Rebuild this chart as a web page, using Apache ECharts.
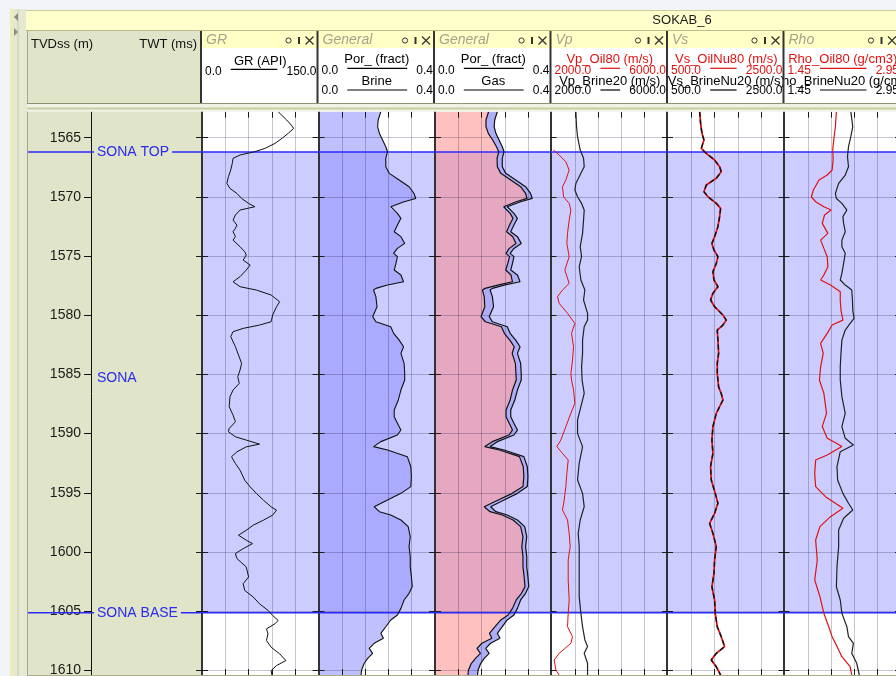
<!DOCTYPE html>
<html>
<head>
<meta charset="utf-8">
<script src="https://cdn.jsdelivr.net/npm/echarts@6/dist/echarts.min.js"></script>
<style>
  html, body { margin: 0; padding: 0; background: #ffffff; }
  #chart { width: 896px; height: 676px; }
</style>
</head>
<body>
<div id="chart"></div>
<script>
// ---------- well / depth reference ----------
const wellName = 'SOKAB_6';
const depthRange = [1562.8, 1610.4];
const depthTicks = [1565, 1570, 1575, 1580, 1585, 1590, 1595, 1600, 1605, 1610];

// formation markers: name, depth (m), drawn as a line across the tracks
const horizonNames = ['SONA TOP', 'SONA', 'SONA BASE'];
const horizonDepths = [1566.2, 1585.3, 1605.15];
const horizonHasLine = [true, false, true];
const zoneTop = 1566.2;
const zoneBase = 1605.15;

// ---------- track scales and grid values ----------
const grScale = [0, 150];        const grGrid = [30, 60, 90, 120];
const porScale = [0, 0.4];       const porGrid = [0.08, 0.16, 0.24, 0.32];
const vpScale = [2000, 6000];    const vpGrid = [2800, 3600, 4400, 5200];
const vsScale = [500, 2500];     const vsGrid = [900, 1300, 1700, 2100];
const rhoScale = [1.45, 2.95];   const rhoGrid = [1.75, 2.05, 2.35, 2.65];

// ---------- logs: [depth (m), value] ----------
const grLog = [[1562.8,98],[1563.5,109],[1563.93,115],[1564.21,118],[1564.63,111],[1565.0,104],[1565.48,94],[1565.9,81],[1566.18,68],[1566.46,49],[1566.74,40],[1567.17,39],[1567.73,37],[1568.29,34],[1568.86,32],[1569.28,36],[1569.71,45],[1570.13,51],[1570.55,60],[1570.83,68],[1571.11,49],[1571.53,43],[1571.96,40],[1572.38,45],[1572.66,43],[1572.94,40],[1573.36,43],[1573.65,40],[1574.21,49],[1574.63,55],[1574.91,57],[1575.34,53],[1575.76,62],[1576.18,57],[1576.74,49],[1577.17,40],[1577.59,49],[1577.87,70],[1578.29,89],[1578.86,100],[1579.28,96],[1579.98,91],[1580.55,89],[1580.83,74],[1581.11,53],[1581.39,40],[1581.81,37],[1582.66,43],[1583.36,47],[1584.07,51],[1584.63,49],[1585.2,46],[1585.76,48],[1586.32,40],[1586.89,36],[1587.73,35],[1588.44,40],[1589.0,43],[1589.57,35],[1589.85,34],[1590.27,43],[1590.55,57],[1590.89,74],[1591.12,57],[1591.54,45],[1591.96,38],[1592.53,43],[1593.09,49],[1593.94,55],[1594.5,62],[1595.06,70],[1595.62,79],[1596.19,89],[1596.47,96],[1596.89,91],[1597.32,79],[1597.74,66],[1598.17,57],[1598.59,47],[1599.01,57],[1599.3,65],[1599.72,53],[1600.14,43],[1600.56,45],[1601.27,57],[1602.12,60],[1602.69,53],[1603.25,55],[1603.81,66],[1604.38,74],[1604.94,85],[1605.37,91],[1605.79,98],[1606.07,94],[1606.5,83],[1606.92,85],[1607.48,83],[1608.05,89],[1608.61,100],[1609.18,108],[1609.6,96],[1610.03,89],[1610.4,90]];

const porLog = [[1562.8,0.214],[1563.5,0.205],[1564.07,0.203],[1564.63,0.209],[1565.19,0.220],[1565.76,0.231],[1566.18,0.237],[1566.74,0.231],[1567.45,0.231],[1568.01,0.243],[1568.57,0.277],[1569.14,0.311],[1569.71,0.328],[1570.13,0.334],[1570.41,0.294],[1570.83,0.248],[1570.97,0.243],[1571.39,0.271],[1571.81,0.283],[1572.38,0.271],[1572.94,0.260],[1573.36,0.283],[1573.93,0.296],[1574.35,0.271],[1574.77,0.258],[1575.05,0.271],[1575.62,0.266],[1576.18,0.260],[1576.6,0.283],[1577.17,0.292],[1577.45,0.237],[1577.73,0.197],[1577.87,0.189],[1578.43,0.197],[1579.28,0.201],[1580.12,0.186],[1580.55,0.197],[1580.97,0.248],[1581.53,0.258],[1582.1,0.277],[1582.66,0.292],[1583.22,0.283],[1584.07,0.294],[1584.92,0.296],[1585.47,0.296],[1586.32,0.283],[1587.16,0.274],[1588.0,0.260],[1588.57,0.260],[1589.13,0.271],[1589.7,0.283],[1590.12,0.271],[1590.68,0.214],[1591.1,0.189],[1591.39,0.237],[1591.95,0.305],[1592.8,0.317],[1593.64,0.319],[1594.48,0.317],[1595.05,0.283],[1595.61,0.237],[1596.18,0.191],[1596.6,0.209],[1596.88,0.248],[1597.3,0.283],[1597.86,0.308],[1598.71,0.315],[1599.55,0.311],[1600.4,0.315],[1601.24,0.315],[1602.09,0.319],[1602.93,0.322],[1603.5,0.311],[1604.06,0.294],[1604.77,0.283],[1605.33,0.271],[1605.75,0.248],[1606.32,0.231],[1606.88,0.214],[1607.3,0.223],[1607.72,0.191],[1608.15,0.174],[1608.57,0.186],[1608.99,0.169],[1609.41,0.157],[1609.98,0.148],[1610.4,0.146]];

const gasLog = [[1562.8,0.184],[1563.5,0.175],[1564.07,0.175],[1564.63,0.183],[1565.19,0.198],[1565.76,0.211],[1566.18,0.219],[1566.74,0.213],[1567.45,0.214],[1568.01,0.226],[1568.57,0.260],[1569.14,0.294],[1569.71,0.311],[1570.13,0.316],[1570.41,0.279],[1570.83,0.236],[1570.97,0.232],[1571.39,0.258],[1571.81,0.268],[1572.38,0.256],[1572.94,0.246],[1573.36,0.267],[1573.93,0.278],[1574.35,0.255],[1574.77,0.244],[1575.05,0.256],[1575.62,0.250],[1576.18,0.243],[1576.6,0.261],[1577.17,0.266],[1577.45,0.215],[1577.73,0.172],[1577.87,0.163],[1578.43,0.169],[1579.28,0.171],[1580.12,0.158],[1580.55,0.173],[1580.97,0.228],[1581.53,0.238],[1582.1,0.257],[1582.66,0.272],[1583.22,0.265],[1584.07,0.276],[1584.92,0.278],[1585.47,0.279],[1586.32,0.266],[1587.16,0.258],[1588.0,0.244],[1588.57,0.244],[1589.13,0.255],[1589.7,0.266],[1590.12,0.254],[1590.68,0.197],[1591.1,0.171],[1591.39,0.221],[1591.95,0.290],[1592.8,0.303],[1593.64,0.305],[1594.48,0.302],[1595.05,0.265],[1595.61,0.217],[1596.18,0.169],[1596.6,0.189],[1596.88,0.231],[1597.3,0.268],[1597.86,0.294],[1598.71,0.302],[1599.55,0.298],[1600.4,0.302],[1601.24,0.302],[1602.09,0.306],[1602.93,0.309],[1603.5,0.297],[1604.06,0.279],[1604.77,0.266],[1605.33,0.251],[1605.75,0.226],[1606.32,0.206],[1606.88,0.187],[1607.3,0.195],[1607.72,0.161],[1608.15,0.144],[1608.57,0.156],[1608.99,0.139],[1609.41,0.125],[1609.98,0.115],[1610.4,0.113]];

const vpBrineLog = [[1562.8,2837],[1564.07,2860],[1564.91,2894],[1566.04,2986],[1566.74,3100],[1567.45,3123],[1568.01,3009],[1568.86,2837],[1569.42,2802],[1569.99,2894],[1570.55,3032],[1571.11,3123],[1571.96,3100],[1573.08,3066],[1574.21,2986],[1575.05,3032],[1575.9,2951],[1577.02,3009],[1577.87,3146],[1578.71,3100],[1579.84,3238],[1580.41,3238],[1580.97,3123],[1582.1,3066],[1583.22,3066],[1584.36,3032],[1585.47,3050],[1586.6,3123],[1587.72,3009],[1588.85,2894],[1589.98,2894],[1591.1,3066],[1592.51,2951],[1593.92,2894],[1595.05,3066],[1596.17,3123],[1597.3,2986],[1598.43,2917],[1599.55,2951],[1600.68,2951],[1602.37,2951],[1603.78,2951],[1605.19,3009],[1606.32,3066],[1607.44,3146],[1608.0,3238],[1608.57,3123],[1609.41,3238],[1610.4,3238]];

const vpOilLog = [[1566.04,2069],[1566.46,2264],[1567.03,2493],[1567.73,2607],[1568.57,2493],[1569.14,2378],[1569.99,2413],[1570.55,2607],[1571.11,2665],[1571.96,2607],[1573.08,2550],[1573.93,2527],[1575.05,2607],[1576.18,2458],[1577.31,2607],[1577.87,2378],[1578.43,2206],[1579.0,2264],[1579.84,2550],[1580.69,2802],[1581.53,2688],[1582.66,2757],[1583.79,2722],[1584.92,2665],[1585.47,2688],[1586.32,2757],[1587.44,2802],[1588.29,2665],[1589.41,2493],[1590.54,2321],[1591.1,2183],[1591.67,2378],[1592.23,2573],[1593.36,2527],[1594.48,2493],[1595.61,2436],[1596.46,2378],[1597.3,2550],[1598.43,2607],[1599.55,2642],[1600.68,2573],[1602.37,2573],[1604.06,2607],[1605.19,2573],[1606.32,2550],[1607.16,2722],[1607.72,2665],[1608.57,2264],[1609.13,2092],[1609.98,2149],[1610.4,2264]];

const vsOilLog = [[1562.8,1043],[1563.79,1060],[1564.63,1083],[1565.19,1117],[1565.9,1071],[1566.32,1157],[1566.88,1300],[1567.45,1386],[1567.87,1414],[1568.43,1329],[1569.0,1157],[1569.56,1117],[1569.99,1186],[1570.55,1329],[1570.97,1403],[1571.67,1386],[1572.52,1357],[1573.36,1300],[1573.93,1254],[1574.49,1289],[1575.05,1357],[1575.62,1329],[1576.32,1271],[1577.02,1289],[1577.59,1357],[1578.15,1271],[1578.71,1231],[1579.28,1300],[1579.98,1443],[1580.41,1500],[1580.83,1443],[1581.25,1346],[1582.1,1357],[1583.22,1369],[1584.07,1346],[1584.92,1346],[1585.47,1357],[1586.05,1369],[1586.62,1414],[1587.16,1443],[1588.29,1329],[1589.41,1271],[1590.54,1254],[1591.67,1271],[1592.79,1231],[1593.92,1243],[1595.05,1311],[1595.89,1357],[1596.74,1300],[1597.58,1214],[1598.43,1271],[1599.55,1329],[1600.68,1300],[1601.81,1289],[1602.94,1254],[1604.06,1300],[1605.19,1311],[1606.32,1346],[1607.16,1414],[1608.0,1471],[1608.57,1329],[1609.13,1243],[1609.7,1329],[1610.4,1403]];

const vsBrineLog = [[1562.8,1043],[1563.79,1060],[1564.63,1083],[1565.19,1117],[1565.9,1071],[1566.32,1157],[1566.88,1300],[1567.45,1386],[1567.87,1414],[1568.43,1329],[1569.0,1157],[1569.56,1117],[1569.99,1186],[1570.55,1329],[1570.97,1403],[1571.67,1386],[1572.52,1357],[1573.36,1300],[1573.93,1254],[1574.49,1289],[1575.05,1357],[1575.62,1329],[1576.32,1271],[1577.02,1289],[1577.59,1357],[1578.15,1271],[1578.71,1231],[1579.28,1300],[1579.98,1443],[1580.41,1500],[1580.83,1443],[1581.25,1346],[1582.1,1357],[1583.22,1369],[1584.07,1346],[1584.92,1346],[1585.47,1357],[1586.05,1369],[1586.62,1414],[1587.16,1443],[1588.29,1329],[1589.41,1271],[1590.54,1254],[1591.67,1271],[1592.79,1231],[1593.92,1243],[1595.05,1311],[1595.89,1357],[1596.74,1300],[1597.58,1214],[1598.43,1271],[1599.55,1329],[1600.68,1300],[1601.81,1289],[1602.94,1254],[1604.06,1300],[1605.19,1311],[1606.32,1346],[1607.16,1414],[1608.0,1471],[1608.57,1329],[1609.13,1243],[1609.7,1329],[1610.4,1403]];

const rhoBrineLog = [[1562.8,2.304],[1564.07,2.329],[1564.91,2.304],[1565.76,2.274],[1566.6,2.261],[1567.45,2.274],[1568.15,2.232],[1568.86,2.147],[1569.71,2.105],[1570.13,2.118],[1570.55,2.189],[1571.11,2.253],[1571.67,2.202],[1572.24,2.211],[1572.94,2.232],[1573.65,2.189],[1574.21,2.189],[1574.77,2.232],[1575.62,2.211],[1576.46,2.189],[1577.02,2.168],[1577.45,2.232],[1577.87,2.316],[1578.71,2.325],[1579.56,2.329],[1580.26,2.346],[1580.69,2.295],[1581.25,2.232],[1582.1,2.189],[1583.22,2.177],[1584.36,2.168],[1585.47,2.168],[1586.88,2.189],[1588.29,2.232],[1589.41,2.189],[1590.4,2.232],[1590.96,2.337],[1591.53,2.168],[1592.79,2.126],[1593.92,2.134],[1595.05,2.202],[1595.89,2.274],[1596.46,2.329],[1597.16,2.211],[1598.15,2.147],[1599.55,2.147],[1601.24,2.126],[1602.94,2.118],[1604.06,2.168],[1605.19,2.189],[1606.32,2.253],[1607.16,2.274],[1607.72,2.337],[1608.57,2.316],[1609.41,2.380],[1610.4,2.413]];

const rhoOilLog = [[1562.8,2.118],[1564.07,2.105],[1565.19,2.084],[1566.04,2.071],[1566.88,2.076],[1567.73,2.063],[1568.15,2.0],[1568.57,1.894],[1569.42,1.822],[1569.99,1.796],[1570.41,1.851],[1570.83,1.957],[1571.11,2.05],[1571.53,1.965],[1572.24,1.936],[1573.08,2.008],[1573.65,1.915],[1574.35,1.957],[1575.05,2.0],[1575.9,2.008],[1576.6,1.957],[1577.02,1.915],[1577.45,2.042],[1578.01,2.168],[1578.71,2.168],[1579.56,2.177],[1580.41,2.202],[1580.83,2.063],[1581.53,2.0],[1582.38,1.915],[1583.22,1.949],[1584.36,1.915],[1585.47,1.900],[1586.6,1.957],[1588.29,1.991],[1589.41,1.936],[1590.4,2.0],[1590.82,2.118],[1591.1,2.189],[1591.81,2.0],[1592.23,1.851],[1593.36,1.839],[1594.48,1.851],[1595.33,1.978],[1596.31,2.202],[1597.02,2.042],[1597.86,1.906],[1598.99,1.851],[1600.68,1.872],[1602.37,1.839],[1603.78,1.906],[1605.19,1.957],[1606.32,2.020],[1607.16,2.063],[1608.0,2.126],[1608.85,2.189],[1609.7,2.295],[1610.4,2.316]];

// ---------- layout ----------
const FONT = '"Liberation Sans", Arial, Helvetica, sans-serif';
const TOP = 111.7, HEIGHT = 563.3, TRACK_W = 116.5;
const trackLeft = [202, 318.5, 435, 551.5, 668, 784.5];
const RED = '#E01010';

const tracks = [
  { title: 'GR', scale: grScale, grid: grGrid,
    rows: [{ name: 'GR (API)', lo: '0.0', hi: '150.0', color: '#000' }] },
  { title: 'General', scale: porScale, grid: porGrid,
    rows: [{ name: 'Por_ (fract)', lo: '0.0', hi: '0.4', color: '#000' },
           { name: 'Brine', lo: '0.0', hi: '0.4', color: '#000' }] },
  { title: 'General', scale: porScale, grid: porGrid,
    rows: [{ name: 'Por_ (fract)', lo: '0.0', hi: '0.4', color: '#000' },
           { name: 'Gas', lo: '0.0', hi: '0.4', color: '#000' }] },
  { title: 'Vp', scale: vpScale, grid: vpGrid,
    rows: [{ name: 'Vp_Oil80 (m/s)', lo: '2000.0', hi: '6000.0', color: RED },
           { name: 'Vp_Brine20 (m/s)', lo: '2000.0', hi: '6000.0', color: '#000' }] },
  { title: 'Vs', scale: vsScale, grid: vsGrid,
    rows: [{ name: 'Vs_OilNu80 (m/s)', lo: '500.0', hi: '2500.0', color: RED },
           { name: 'Vs_BrineNu20 (m/s)', lo: '500.0', hi: '2500.0', color: '#000' }] },
  { title: 'Rho', scale: rhoScale, grid: rhoGrid,
    rows: [{ name: 'Rho_Oil80 (g/cm3)', lo: '1.45', hi: '2.95', color: RED },
           { name: 'Rho_BrineNu20 (g/cm3)', lo: '1.45', hi: '2.95', color: '#000' }] }
];

const GRID_LINE = 'rgba(0,0,50,0.22)';
const TICK = '#1c1c1c';

// ---------- grids and axes ----------
function gridBox(left, width) {
  return { left: left, top: TOP, width: width, height: HEIGHT, containLabel: false, outerBoundsMode: 'none' };
}
const grids = [gridBox(91, 109)];
const xAxes = [{ gridIndex: 0, type: 'value', min: 0, max: 1, show: false }];
const yAxes = [{
  gridIndex: 0, type: 'value', inverse: true, min: depthRange[0], max: depthRange[1], z: 3,
  axisLine: { show: true, lineStyle: { color: '#111', width: 1 } },
  axisTick: { show: true, length: 7, customValues: depthTicks, lineStyle: { color: '#111' } },
  axisLabel: { show: true, customValues: depthTicks, color: '#1a1a1a', fontSize: 14, fontFamily: FONT, margin: 10,
               formatter: v => String(v) },
  splitLine: { show: false }
}];

tracks.forEach((t, i) => {
  const g = i + 1;
  grids.push(gridBox(trackLeft[i], TRACK_W));
  ['top', 'bottom'].forEach(pos => {
    xAxes.push({
      gridIndex: g, type: 'value', position: pos, min: t.scale[0], max: t.scale[1], z: 3,
      axisLine: { show: false }, axisLabel: { show: false },
      axisTick: { show: true, inside: true, length: 6, customValues: t.grid, lineStyle: { color: TICK } },
      splitLine: { show: pos === 'top', lineStyle: { color: GRID_LINE, width: 1 } }
    });
  });
  ['left', 'right'].forEach(pos => {
    yAxes.push({
      gridIndex: g, type: 'value', position: pos, inverse: true, min: depthRange[0], max: depthRange[1],
      offset: pos === 'left' ? 1 : 0, z: 3,
      axisLine: { show: pos === 'left', lineStyle: { color: '#333', width: 2 } },
      axisLabel: { show: false },
      axisTick: { show: true, inside: true, length: 6, customValues: depthTicks, lineStyle: { color: TICK } },
      splitLine: { show: pos === 'left', lineStyle: { color: GRID_LINE, width: 1 } }
    });
  });
});

const xIdx = i => 1 + i * 2;      // top x axis of track i
const yIdx = i => 1 + i * 2;      // left y axis of track i

// ---------- series ----------
const series = [];

// reservoir zone shading in every track
tracks.forEach((t, i) => {
  series.push({
    type: 'custom', xAxisIndex: xIdx(i), yAxisIndex: yIdx(i), z: 1, silent: true,
    data: [[t.scale[0], zoneTop]],
    renderItem: (params, api) => {
      const a = api.coord([t.scale[0], zoneTop]);
      const b = api.coord([t.scale[1], zoneBase]);
      return { type: 'rect', shape: { x: a[0], y: a[1], width: b[0] - a[0], height: b[1] - a[1] },
               style: { fill: '#CCCCFF' } };
    }
  });
});

// polygon between the track's left edge and a curve
function edgeFill(i, log, xmin, fill) {
  return {
    type: 'custom', xAxisIndex: xIdx(i), yAxisIndex: yIdx(i), z: 2, silent: true,
    data: [[xmin, log[0][0]]],
    renderItem: (params, api) => {
      const pts = [api.coord([xmin, log[0][0]])];
      log.forEach(p => pts.push(api.coord([p[1], p[0]])));
      pts.push(api.coord([xmin, log[log.length - 1][0]]));
      return { type: 'polygon', shape: { points: pts }, style: { fill: fill } };
    }
  };
}
// polygon between two curves
function bandFill(i, logA, logB, fill) {
  return {
    type: 'custom', xAxisIndex: xIdx(i), yAxisIndex: yIdx(i), z: 2, silent: true,
    data: [[logA[0][1], logA[0][0]]],
    renderItem: (params, api) => {
      const pts = logA.map(p => api.coord([p[1], p[0]]));
      for (let k = logB.length - 1; k >= 0; k--) pts.push(api.coord([logB[k][1], logB[k][0]]));
      return { type: 'polygon', shape: { points: pts }, style: { fill: fill } };
    }
  };
}
function curve(i, log, color, width, dashed) {
  return {
    type: 'line', xAxisIndex: xIdx(i), yAxisIndex: yIdx(i), z: 5, silent: true,
    symbol: 'none', showSymbol: false, animation: false,
    data: log.map(p => [p[1], p[0]]),
    lineStyle: { color: color, width: width, type: dashed ? [5, 3] : 'solid' }
  };
}

series.push(edgeFill(1, porLog, porScale[0], 'rgba(144,144,255,0.57)'));
series.push(edgeFill(2, gasLog, porScale[0], 'rgba(255,129,129,0.5)'));
series.push(bandFill(2, gasLog, porLog, '#AEAEF8'));

series.push(curve(0, grLog, '#111', 1));
series.push(curve(1, porLog, '#111', 1.1));
series.push(curve(2, gasLog, '#111', 1.2));
series.push(curve(2, porLog, '#111', 1.2));
series.push(curve(3, vpBrineLog, '#222', 1.2));
series.push(curve(3, vpOilLog, RED, 1));
series.push(curve(4, vsOilLog, RED, 1.7));
series.push(curve(4, vsBrineLog, '#111', 1.4, true));
series.push(curve(5, rhoBrineLog, '#222', 1.2));
series.push(curve(5, rhoOilLog, RED, 1.2));

// formation markers in the depth track, lines running across all tracks
series.push({
  type: 'custom', xAxisIndex: 0, yAxisIndex: 0, z: 4, silent: true,
  data: horizonDepths.map(d => [0, d]),
  renderItem: (params, api) => {
    const k = params.dataIndex;
    const y = api.coord([0, api.value(1)])[1];
    const children = [];
    if (horizonHasLine[k]) {
      children.push({ type: 'line', shape: { x1: 28, y1: y, x2: 896, y2: y },
                      style: { stroke: '#2A2AFF', lineWidth: 1.5 } });
    }
    children.push({ type: 'text', x: 94, y: y,
      style: { text: horizonNames[k], fill: '#2B2BEE', font: '14px ' + FONT,
               align: 'left', verticalAlign: 'middle', textAlign: 'left', textVerticalAlign: 'middle',
               backgroundColor: '#E0E4C8', padding: [1, 3, 1, 3] } });
    return { type: 'group', children: children };
  }
});

// ---------- header and frame ----------
const graphics = [];
function rect(x, y, w, h, fill, z) {
  graphics.push({ type: 'rect', z: z, silent: true, shape: { x: x, y: y, width: w, height: h }, style: { fill: fill } });
}
function hline(x1, x2, y, stroke, w, z) {
  graphics.push({ type: 'line', z: z, silent: true, shape: { x1: x1, y1: y, x2: x2, y2: y }, style: { stroke: stroke, lineWidth: w } });
}
function text(str, x, y, opts, z) {
  graphics.push({ type: 'text', z: z, silent: true, x: x, y: y,
    style: Object.assign({ text: str, font: '12px ' + FONT, fill: '#111',
      align: 'left', verticalAlign: 'middle', textAlign: 'left', textVerticalAlign: 'middle' }, opts) });
}
function textWidth(s) {
  let w = 0;
  for (const c of s) w += (c === '.' ? 3.4 : 6.7);
  return w;
}

// outer frame
rect(0, 0, 896, 676, '#F2F4F8', 0);
rect(10, 9, 3, 667, '#EEEEB0', 0);
rect(13, 9, 14, 667, '#E6E9D2', 0);
rect(17, 9, 2, 667, '#D6D9BE', 0);
graphics.push({ type: 'polygon', z: 1, silent: true, shape: { points: [[18, 13], [18, 21], [14, 17]] }, style: { fill: '#8A8A8A' } });
graphics.push({ type: 'polygon', z: 1, silent: true, shape: { points: [[14, 28], [14, 36], [18, 32]] }, style: { fill: '#8A8A8A' } });

// well title bar
rect(26, 10, 870, 21, '#FFFFCC', 1);
hline(26, 896, 10.5, '#C8CC98', 1, 2);
hline(26, 896, 30.5, '#B8BC88', 1, 2);
text(wellName, 682, 20.5, { font: '13px ' + FONT, align: 'center', textAlign: 'center', fill: '#1a1a1a' }, 3);

// white data area and beige depth track
rect(27, 31, 869, 645, '#FFFFFF', 0);
rect(27, 31, 174, 645, '#E0E4C8', 0);
graphics.push({ type: 'line', z: 1, silent: true, shape: { x1: 27.5, y1: 31, x2: 27.5, y2: 676 }, style: { stroke: '#A4A888', lineWidth: 1 } });
text('TVDss (m)', 31, 44, { font: '13px ' + FONT }, 3);
text('TWT (ms)', 197, 44, { font: '13px ' + FONT, align: 'right', textAlign: 'right' }, 3);

// track headers, drawn right to left so that long names are trimmed by the neighbouring panel
for (let i = tracks.length - 1; i >= 0; i--) {
  const t = tracks[i];
  const x0 = trackLeft[i], x1 = x0 + TRACK_W, cx = x0 + TRACK_W / 2;
  const zb = 20 + 2 * (tracks.length - 1 - i);
  rect(x0, 31, TRACK_W, 17, '#FFFFC6', zb);
  rect(x0, 48, TRACK_W, 55, '#FFFFFF', zb);
  text(t.title, x0 + 4, 40.5, { font: 'italic 14px ' + FONT, fill: '#A3A38C' }, zb + 1);
  // panel buttons
  graphics.push({ type: 'circle', z: zb + 1, silent: true, shape: { cx: x1 - 30, cy: 40.5, r: 2.6 }, style: { fill: 'none', stroke: '#333', lineWidth: 1 } });
  rect(x1 - 20.5, 37, 2, 7, '#333', zb + 1);
  graphics.push({ type: 'line', z: zb + 1, silent: true, shape: { x1: x1 - 13, y1: 36.5, x2: x1 - 5, y2: 44.5 }, style: { stroke: '#333', lineWidth: 1.2 } });
  graphics.push({ type: 'line', z: zb + 1, silent: true, shape: { x1: x1 - 13, y1: 44.5, x2: x1 - 5, y2: 36.5 }, style: { stroke: '#333', lineWidth: 1.2 } });
  // curve scales
  const layout = t.rows.length === 1
    ? [{ label: 61.5, line: 69.3, num: 71.7 }]
    : [{ label: 59.5, line: 68.3, num: 70.5 }, { label: 81, line: 90, num: 91 }];
  t.rows.forEach((r, k) => {
    const L = layout[k];
    text(r.name, cx, L.label, { font: '13px ' + FONT, fill: r.color, align: 'center', textAlign: 'center' }, zb + 1);
    text(r.lo, x0 + 3, L.num, { font: '12px ' + FONT, fill: r.color }, zb + 1);
    text(r.hi, x1 - 2, L.num, { font: '12px ' + FONT, fill: r.color, align: 'right', textAlign: 'right' }, zb + 1);
    hline(x0 + 3 + textWidth(r.lo) + 9, x1 - 2 - textWidth(r.hi) - 9, L.line, r.color, 1.2, zb + 1);
  });
}
// panel separators in the header
trackLeft.map(x => x - 1).forEach(x => {
  rect(x - 1, 31, 2, 72, '#333333', 40);
});

// band between header and data area
rect(27, 103, 869, 8.7, '#F1F2E6', 41);
hline(27, 896, 103.5, '#8E9070', 1, 42);
hline(27, 896, 108.5, '#C9CDA2', 2, 42);
hline(27, 896, 675.5, '#A8AC84', 1, 42);

const option = {
  animation: false,
  backgroundColor: '#FFFFFF',
  grid: grids,
  xAxis: xAxes,
  yAxis: yAxes,
  series: series,
  graphic: { elements: graphics }
};

const chart = echarts.init(document.getElementById('chart'), null, { renderer: 'canvas', width: 896, height: 676 });
chart.setOption(option);
</script>
</body>
</html>
